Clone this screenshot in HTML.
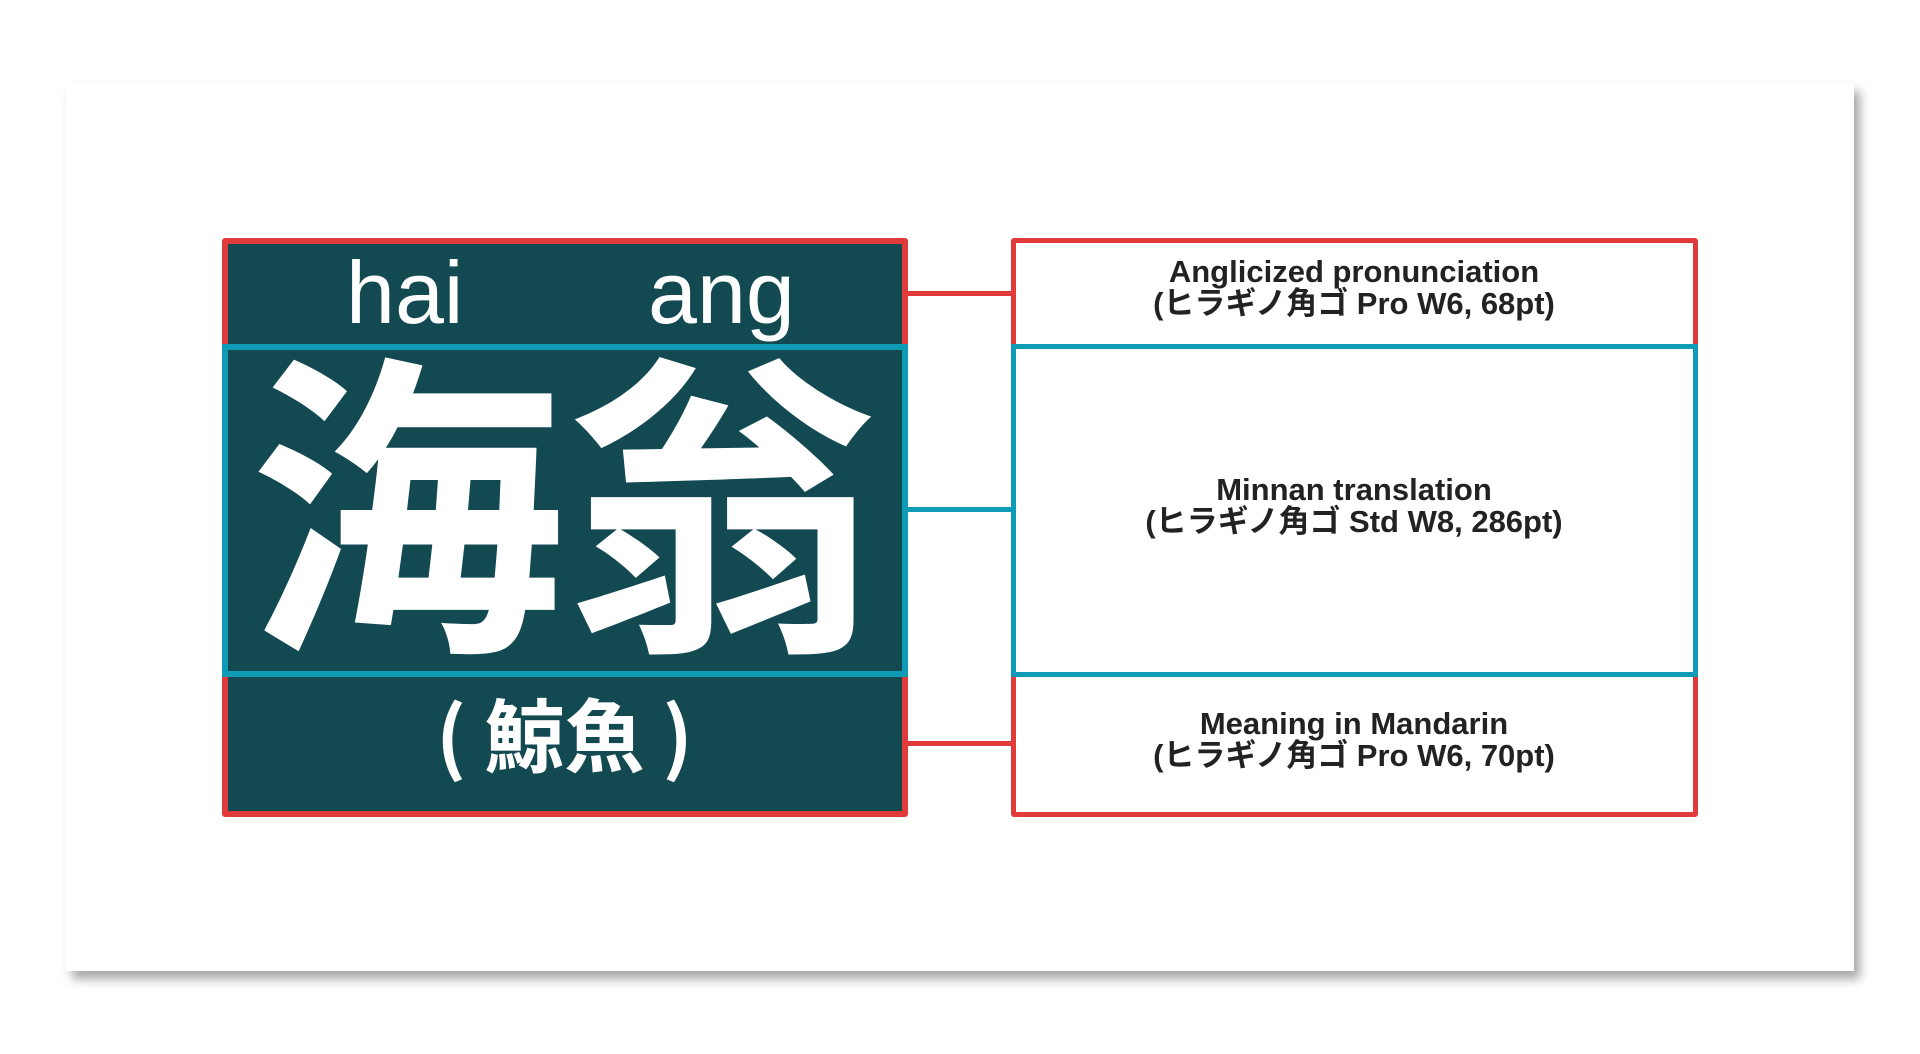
<!DOCTYPE html>
<html><head><meta charset="utf-8"><style>
body{margin:0;width:1920px;height:1054px;background:#fff;position:relative;overflow:hidden;font-family:"Liberation Sans","Noto Sans CJK JP",sans-serif}
.card{position:absolute;left:66px;top:83px;width:1788px;height:888px;background:#fff;box-shadow:6px 8px 10px rgba(0,0,0,0.35)}
.a{position:absolute;box-sizing:border-box}
.t{position:absolute;color:#fff;white-space:nowrap}
.lab{position:absolute;left:1011px;width:686px;text-align:center;font-weight:bold;font-size:31px;line-height:32px;color:#222}
</style></head><body>
<div class="card"></div>
<div class="a" style="left:222px;top:238px;width:686px;height:579px;background:#134a52;border:6px solid #e03a3a;border-radius:3px"></div>
<div class="a" style="left:222px;top:344px;width:686px;height:333px;border:6px solid #0e9bb5"></div>
<div class="t" style="left:346px;top:243px;font-size:88px;line-height:100px">hai</div>
<div class="t" style="left:648px;top:243px;font-size:88px;line-height:100px">ang</div>
<div class="t" style="left:249px;top:314px;font-size:316px;line-height:350px;font-weight:bold;font-family:'Noto Sans CJK JP',sans-serif;letter-spacing:0px">海翁</div>
<div class="t" style="left:436px;top:682px;font-size:80px;line-height:100px;font-weight:bold;font-family:'Noto Sans CJK JP',sans-serif">(&nbsp;鯨魚&nbsp;)</div>
<div class="a" style="left:908px;top:291px;width:104px;height:5px;background:#e03a3a"></div>
<div class="a" style="left:908px;top:507px;width:104px;height:5px;background:#0e9bb5"></div>
<div class="a" style="left:908px;top:741px;width:104px;height:5px;background:#e03a3a"></div>
<div class="a" style="left:1011px;top:238px;width:687px;height:579px;border:5px solid #e03a3a;border-radius:3px"></div>
<div class="a" style="left:1011px;top:344px;width:687px;height:333px;border:5px solid #0e9bb5"></div>
<div class="lab" style="top:256px">Anglicized pronunciation<br>(ヒラギノ角ゴ Pro W6, 68pt)</div>
<div class="lab" style="top:474px">Minnan translation<br>(ヒラギノ角ゴ Std W8, 286pt)</div>
<div class="lab" style="top:708px">Meaning in Mandarin<br>(ヒラギノ角ゴ Pro W6, 70pt)</div>
</body></html>
